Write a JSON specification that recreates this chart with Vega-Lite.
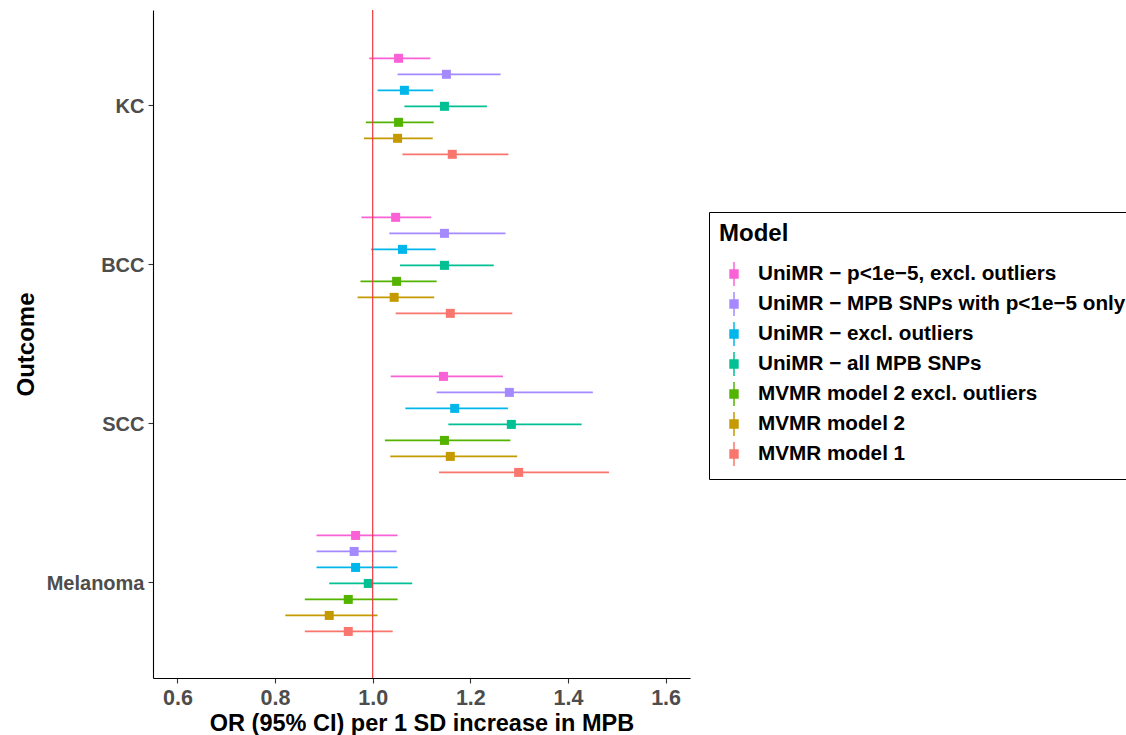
{
  "$schema": "https://vega.github.io/schema/vega-lite/v6.json",
  "width": 537,
  "height": 668,
  "autosize": "none",
  "padding": {"left": 153, "top": 10, "right": 436, "bottom": 57},
  "background": "white",
  "config": {
    "view": {"stroke": null},
    "font": "Liberation Sans",
    "axis": {"grid": false, "domainColor": "black", "domainWidth": 1.1, "tickColor": "#333333", "tickSize": 5, "tickWidth": 1.1,
             "labelFont": "Liberation Sans", "labelFontWeight": "bold", "labelColor": "#4D4D4D",
             "titleFont": "Liberation Sans", "titleFontWeight": "bold", "titleColor": "black", "titleFontSize": 23.5},
    "legend": {
      "orient": "none", "legendX": 556, "legendY": 202,
      "titleFont": "Liberation Sans", "titleFontSize": 24, "titleFontWeight": "bold", "titleColor": "black", "titlePadding": 15,
      "labelFont": "Liberation Sans", "labelFontSize": 20.7, "labelFontWeight": "bold", "labelColor": "black", "labelLimit": 0,
      "symbolType": "M0,-1V1M-0.33,-0.33H0.33V0.33H-0.33Z", "symbolSize": 576, "symbolOffset": 2, "labelOffset": 11, "rowPadding": 0,
      "strokeColor": "black", "padding": 10
    }
  },
  "layer": [
    {
      "data": {"values": [
        {"Outcome": "KC", "Model": "UniMR − p<1e−5, excl. outliers", "est": 1.053, "lo": 0.993, "hi": 1.118},
        {"Outcome": "KC", "Model": "UniMR − MPB SNPs with p<1e−5 only", "est": 1.151, "lo": 1.051, "hi": 1.262},
        {"Outcome": "KC", "Model": "UniMR − excl. outliers", "est": 1.065, "lo": 1.010, "hi": 1.124},
        {"Outcome": "KC", "Model": "UniMR − all MPB SNPs", "est": 1.147, "lo": 1.065, "hi": 1.234},
        {"Outcome": "KC", "Model": "MVMR model 2 excl. outliers", "est": 1.053, "lo": 0.986, "hi": 1.125},
        {"Outcome": "KC", "Model": "MVMR model 2", "est": 1.051, "lo": 0.982, "hi": 1.123},
        {"Outcome": "KC", "Model": "MVMR model 1", "est": 1.163, "lo": 1.061, "hi": 1.278},
        {"Outcome": "BCC", "Model": "UniMR − p<1e−5, excl. outliers", "est": 1.047, "lo": 0.977, "hi": 1.120},
        {"Outcome": "BCC", "Model": "UniMR − MPB SNPs with p<1e−5 only", "est": 1.147, "lo": 1.034, "hi": 1.272},
        {"Outcome": "BCC", "Model": "UniMR − excl. outliers", "est": 1.061, "lo": 0.997, "hi": 1.129},
        {"Outcome": "BCC", "Model": "UniMR − all MPB SNPs", "est": 1.147, "lo": 1.056, "hi": 1.248},
        {"Outcome": "BCC", "Model": "MVMR model 2 excl. outliers", "est": 1.049, "lo": 0.975, "hi": 1.131},
        {"Outcome": "BCC", "Model": "MVMR model 2", "est": 1.044, "lo": 0.969, "hi": 1.126},
        {"Outcome": "BCC", "Model": "MVMR model 1", "est": 1.159, "lo": 1.047, "hi": 1.286},
        {"Outcome": "SCC", "Model": "UniMR − p<1e−5, excl. outliers", "est": 1.145, "lo": 1.037, "hi": 1.267},
        {"Outcome": "SCC", "Model": "UniMR − MPB SNPs with p<1e−5 only", "est": 1.280, "lo": 1.131, "hi": 1.451},
        {"Outcome": "SCC", "Model": "UniMR − excl. outliers", "est": 1.168, "lo": 1.067, "hi": 1.277},
        {"Outcome": "SCC", "Model": "UniMR − all MPB SNPs", "est": 1.284, "lo": 1.155, "hi": 1.428},
        {"Outcome": "SCC", "Model": "MVMR model 2 excl. outliers", "est": 1.147, "lo": 1.025, "hi": 1.282},
        {"Outcome": "SCC", "Model": "MVMR model 2", "est": 1.159, "lo": 1.036, "hi": 1.296},
        {"Outcome": "SCC", "Model": "MVMR model 1", "est": 1.299, "lo": 1.136, "hi": 1.484},
        {"Outcome": "Melanoma", "Model": "UniMR − p<1e−5, excl. outliers", "est": 0.965, "lo": 0.885, "hi": 1.051},
        {"Outcome": "Melanoma", "Model": "UniMR − MPB SNPs with p<1e−5 only", "est": 0.962, "lo": 0.885, "hi": 1.049},
        {"Outcome": "Melanoma", "Model": "UniMR − excl. outliers", "est": 0.965, "lo": 0.885, "hi": 1.051},
        {"Outcome": "Melanoma", "Model": "UniMR − all MPB SNPs", "est": 0.991, "lo": 0.911, "hi": 1.081},
        {"Outcome": "Melanoma", "Model": "MVMR model 2 excl. outliers", "est": 0.950, "lo": 0.861, "hi": 1.051},
        {"Outcome": "Melanoma", "Model": "MVMR model 2", "est": 0.911, "lo": 0.821, "hi": 1.010},
        {"Outcome": "Melanoma", "Model": "MVMR model 1", "est": 0.950, "lo": 0.861, "hi": 1.041}
      ]},
      "encoding": {
        "y": {"field": "Outcome", "type": "nominal", "sort": ["KC", "BCC", "SCC", "Melanoma"],
              "scale": {"domain": ["KC", "BCC", "SCC", "Melanoma"], "paddingInner": 0, "paddingOuter": 0.1},
              "axis": {"title": "Outcome", "titleFontSize": 24, "labelFontSize": 20, "labelPadding": 4, "labelOffset": 1.5, "titlePadding": 8}},
        "yOffset": {"field": "Model", "type": "nominal",
              "scale": {"type": "band", "domain": ["UniMR − p<1e−5, excl. outliers", "UniMR − MPB SNPs with p<1e−5 only", "UniMR − excl. outliers", "UniMR − all MPB SNPs", "MVMR model 2 excl. outliers", "MVMR model 2", "MVMR model 1"], "paddingInner": 0, "paddingOuter": 0, "range": [24.4, 136.4]}},
        "color": {"field": "Model", "type": "nominal",
              "scale": {"domain": ["UniMR − p<1e−5, excl. outliers", "UniMR − MPB SNPs with p<1e−5 only", "UniMR − excl. outliers", "UniMR − all MPB SNPs", "MVMR model 2 excl. outliers", "MVMR model 2", "MVMR model 1"],
                        "range": ["#FB61D7", "#A58AFF", "#00B6EB", "#00C094", "#53B400", "#C49A00", "#F8766D"]},
              "legend": {"title": "Model", "encode": {"symbols": {"update": {"stroke": {"scale": "color", "field": "value"}, "strokeWidth": {"value": 1.5}, "fill": {"scale": "color", "field": "value"}, "opacity": {"value": 1}}}}}}
      },
      "layer": [
        {
          "mark": {"type": "rule", "strokeWidth": 1.7},
          "encoding": {
            "x": {"field": "lo", "type": "quantitative",
                  "scale": {"domain": [0.55, 1.65], "zero": false, "nice": false},
                  "axis": {"title": "OR (95% CI) per 1 SD increase in MPB", "values": [0.6, 0.8, 1.0, 1.2, 1.4, 1.6], "format": ".1f", "labelFontSize": 21.5, "labelPadding": 4, "titlePadding": 3}},
            "x2": {"field": "hi"}
          }
        },
        {
          "mark": {"type": "square", "size": 81, "filled": true, "opacity": 1},
          "encoding": {
            "x": {"field": "est", "type": "quantitative"}
          }
        }
      ]
    },
    {
      "data": {"values": [{}]},
      "mark": {"type": "rule", "color": "#F0393F", "strokeWidth": 1.2},
      "encoding": {"x": {"datum": 1.0, "type": "quantitative"}}
    }
  ]
}
